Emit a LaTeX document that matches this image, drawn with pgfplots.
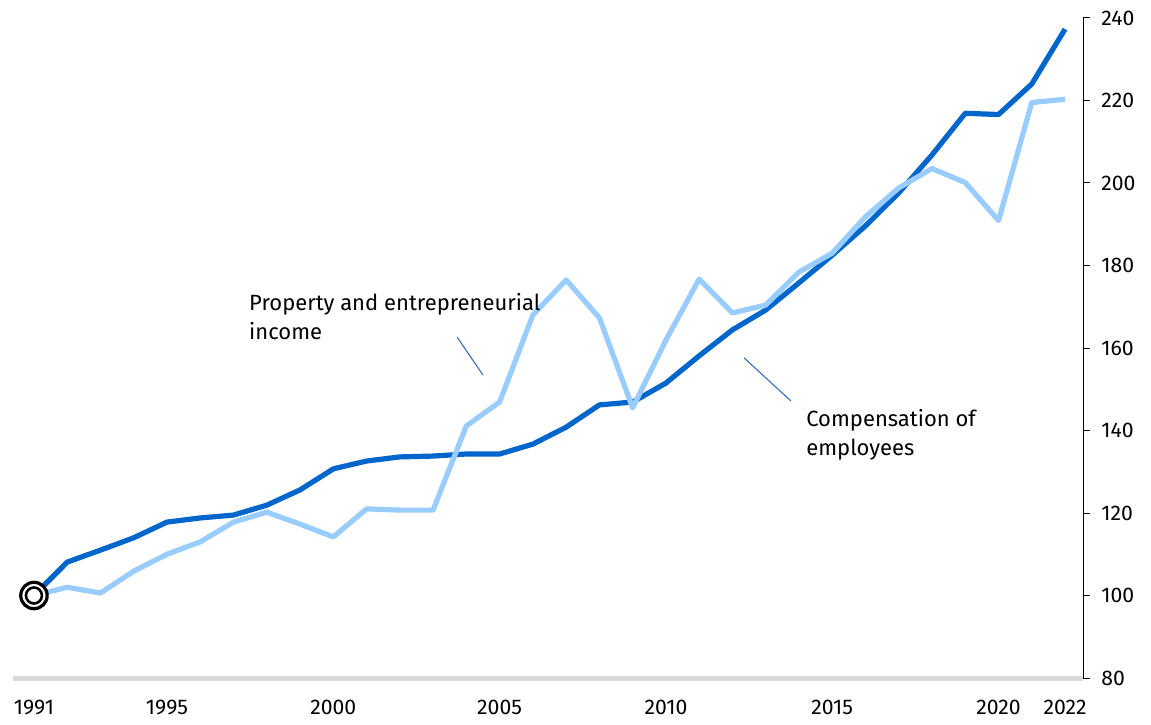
\documentclass[border=0pt]{standalone}
\usepackage{fontspec}
\setmainfont{Fira Sans}
\usepackage{pgfplots}
\pgfplotsset{compat=1.18}

\definecolor{compblue}{HTML}{0066CC}
\definecolor{propblue}{HTML}{99CCFF}
\definecolor{leader}{HTML}{4477BB}
\definecolor{baseline}{HTML}{D9D9D9}

\begin{document}
\begin{tikzpicture}
\begin{axis}[
    name=ax,
    scale only axis,
    width=535pt,
    height=330pt,
    xmin=1990.37, xmax=2022.54,
    ymin=80, ymax=240,
    axis y line=right,
    axis x line=bottom,
    x axis line style={draw=baseline, line width=2.5pt, -},
    y axis line style={draw=black, line width=0.5pt, -},
    xtick={1991,1995,2000,2005,2010,2015,2020,2022},
    xticklabels={1991,1995,2000,2005,2010,2015,2020,2022},
    ytick={80,100,...,240},
    xtick style={draw=none},
    ytick style={draw=black, line width=0.5pt},
    tick align=outside,
    major tick length=3.5pt,
    xticklabel style={font=\fontsize{10.6}{12}\selectfont, yshift=-4pt},
    yticklabel style={font=\fontsize{10.6}{12}\selectfont, anchor=west, inner sep=0pt, xshift=5.5pt},
    /pgf/number format/assume math mode=true,
    clip=false,
    line join=round,
]
% Compensation of employees
\addplot[compblue, line width=2.6pt] coordinates {
  (1991,100) (1992,108.1) (1993,111.0) (1994,114.0) (1995,117.8)
  (1996,118.8) (1997,119.5) (1998,121.9) (1999,125.6) (2000,130.7)
  (2001,132.6) (2002,133.6) (2003,133.8) (2004,134.3) (2005,134.3)
  (2006,136.7) (2007,140.8) (2008,146.2) (2009,146.9) (2010,151.5)
  (2011,158.1) (2012,164.4) (2013,169.2) (2014,175.8) (2015,182.5)
  (2016,189.6) (2017,197.6) (2018,206.8) (2019,216.9) (2020,216.6)
  (2021,224.0) (2022,237.3)
};
% Property and entrepreneurial income
\addplot[propblue, line width=2.6pt] coordinates {
  (1991,100) (1992,102.0) (1993,100.6) (1994,105.9) (1995,110.0)
  (1996,113.0) (1997,117.8) (1998,120.2) (1999,117.3) (2000,114.2)
  (2001,121.0) (2002,120.7) (2003,120.7) (2004,141.1) (2005,146.9)
  (2006,168.0) (2007,176.5) (2008,167.3) (2009,145.5) (2010,161.9)
  (2011,176.7) (2012,168.5) (2013,170.4) (2014,178.4) (2015,183.0)
  (2016,191.8) (2017,198.8) (2018,203.5) (2019,200.1) (2020,190.9)
  (2021,219.5) (2022,220.3)
};
% base-year marker
\addplot[only marks, mark=*, mark size=6.6pt,
  mark options={draw=black, fill=white, line width=1.6pt}] coordinates {(1991,100)};
\addplot[only marks, mark=o, mark size=4pt,
  mark options={draw=black, line width=1.3pt}] coordinates {(1991,100)};

% leaders
\draw[leader, line width=0.6pt] (axis cs:2003.72,162.67) -- (axis cs:2004.50,153.45);
\draw[leader, line width=0.6pt] (axis cs:2012.35,157.60) -- (axis cs:2013.76,147.15);

% labels
\node[anchor=base west, inner sep=0pt, font=\fontsize{11}{14}\selectfont]
  at (axis cs:1997.46,168.97) {Property and entrepreneurial};
\node[anchor=base west, inner sep=0pt, font=\fontsize{11}{14}\selectfont]
  at (axis cs:1997.46,162.18) {income};
\node[anchor=base west, inner sep=0pt, font=\fontsize{11}{14}\selectfont]
  at (axis cs:2014.21,140.85) {Compensation of};
\node[anchor=base west, inner sep=0pt, font=\fontsize{11}{14}\selectfont]
  at (axis cs:2014.21,134.06) {employees};
\end{axis}
\pgfresetboundingbox
\path[use as bounding box] (ax.south west) ++(-6.5pt,-23pt) rectangle ++(575.5pt,362pt);
\end{tikzpicture}
\end{document}
